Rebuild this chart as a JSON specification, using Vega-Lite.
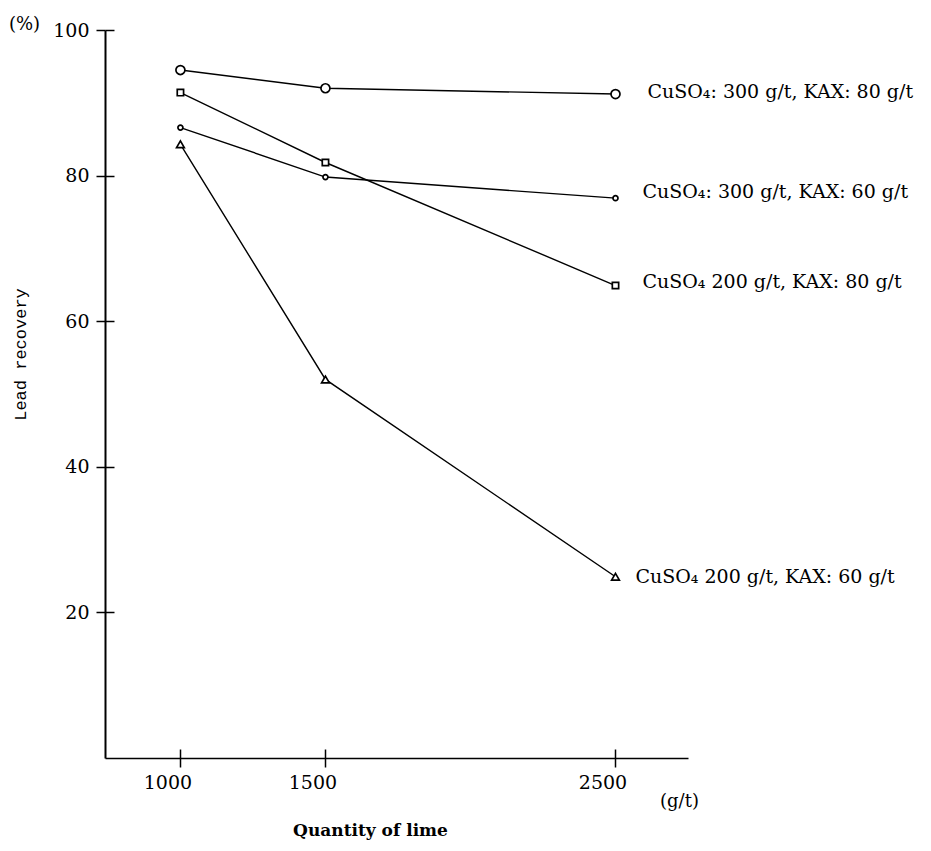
{
  "$schema": "https://vega.github.io/schema/vega-lite/v6.json",
  "width": 583,
  "height": 728,
  "autosize": "none",
  "padding": {"left": 105, "top": 30, "right": 243, "bottom": 93},
  "background": "white",
  "config": {
    "view": {"stroke": null},
    "axis": {
      "grid": false,
      "domainColor": "black",
      "tickColor": "black",
      "labelColor": "black",
      "titleColor": "black",
      "labelFont": "DejaVu Serif",
      "labelFontSize": 19,
      "tickWidth": 1.5
    }
  },
  "data": {
    "values": [
      {"series": "CuSO₄: 300 g/t, KAX: 80 g/t", "lime": 1000, "recovery": 94.5},
      {"series": "CuSO₄: 300 g/t, KAX: 80 g/t", "lime": 1500, "recovery": 92.0},
      {"series": "CuSO₄: 300 g/t, KAX: 80 g/t", "lime": 2500, "recovery": 91.2},
      {"series": "CuSO₄: 300 g/t, KAX: 60 g/t", "lime": 1000, "recovery": 86.6},
      {"series": "CuSO₄: 300 g/t, KAX: 60 g/t", "lime": 1500, "recovery": 79.8},
      {"series": "CuSO₄: 300 g/t, KAX: 60 g/t", "lime": 2500, "recovery": 76.9},
      {"series": "CuSO₄  200 g/t, KAX: 80 g/t", "lime": 1000, "recovery": 91.4},
      {"series": "CuSO₄  200 g/t, KAX: 80 g/t", "lime": 1500, "recovery": 81.8},
      {"series": "CuSO₄  200 g/t, KAX: 80 g/t", "lime": 2500, "recovery": 64.9},
      {"series": "CuSO₄  200 g/t, KAX: 60 g/t", "lime": 1000, "recovery": 84.3},
      {"series": "CuSO₄  200 g/t, KAX: 60 g/t", "lime": 1500, "recovery": 52.0},
      {"series": "CuSO₄  200 g/t, KAX: 60 g/t", "lime": 2500, "recovery": 24.9}
    ]
  },
  "layer": [
    {
      "mark": {"type": "line", "color": "black", "strokeWidth": 1.4},
      "encoding": {
        "x": {
          "field": "lime", "type": "quantitative",
          "scale": {"domain": [740, 2750], "nice": false, "zero": false},
          "axis": {
            "values": [1000, 1500, 2500], "format": "d",
            "tickSize": 9, "labelOffset": -13, "labelPadding": 6,
            "domainWidth": 1.5,
            "title": "Quantity of lime", "titleFont": "DejaVu Serif", "titleFontWeight": "bold", "titleFontSize": 17,
            "titleX": 265, "titleY": 72, "titleAnchor": null, "titleAlign": "center", "titleBaseline": "middle"
          }
        },
        "y": {
          "field": "recovery", "type": "quantitative",
          "scale": {"domain": [0, 100], "nice": false},
          "axis": {
            "values": [20, 40, 60, 80, 100],
            "tickSize": 9, "labelPadding": 7, "domainWidth": 2,
            "title": "Lead recovery", "titleFont": "Liberation Mono", "titleFontWeight": "normal", "titleFontSize": 17,
            "titleX": -85, "titleY": 324, "titleAngle": 270, "titleAlign": "center", "titleBaseline": "middle"
          }
        },
        "detail": {"field": "series"}
      }
    },
    {
      "mark": {"type": "point", "filled": true, "fill": "white", "stroke": "black", "strokeWidth": 1.7, "opacity": 1},
      "encoding": {
        "x": {
          "field": "lime", "type": "quantitative",
          "axis": {
            "orient": "bottom", "values": [1000, 1500, 2500],
            "tickSize": -9, "labels": false, "domain": false,
            "title": "(g/t)", "titleFont": "DejaVu Serif", "titleFontWeight": "normal", "titleFontSize": 18,
            "titleX": 574, "titleY": 43, "titleAlign": "center", "titleBaseline": "middle"
          }
        },
        "y": {
          "field": "recovery", "type": "quantitative",
          "axis": {
            "orient": "left", "values": [20, 40, 60, 80, 100],
            "tickSize": -9, "labels": false, "domain": false,
            "title": "(%)", "titleFont": "DejaVu Serif", "titleFontWeight": "normal", "titleFontSize": 18,
            "titleX": -81, "titleY": -6, "titleAngle": 0, "titleAlign": "center", "titleBaseline": "middle"
          }
        },
        "shape": {
          "field": "series", "type": "nominal",
          "scale": {
            "domain": ["CuSO₄: 300 g/t, KAX: 80 g/t", "CuSO₄: 300 g/t, KAX: 60 g/t", "CuSO₄  200 g/t, KAX: 80 g/t", "CuSO₄  200 g/t, KAX: 60 g/t"],
            "range": ["circle", "circle", "square", "triangle-up"]
          },
          "legend": null
        },
        "size": {
          "field": "series", "type": "nominal",
          "scale": {
            "type": "ordinal",
            "domain": ["CuSO₄: 300 g/t, KAX: 80 g/t", "CuSO₄: 300 g/t, KAX: 60 g/t", "CuSO₄  200 g/t, KAX: 80 g/t", "CuSO₄  200 g/t, KAX: 60 g/t"],
            "range": [81, 25, 40, 60]
          },
          "legend": null
        }
      }
    },
    {
      "transform": [{"filter": "datum.lime == 2500 && datum.series == 'CuSO₄: 300 g/t, KAX: 80 g/t'"}],
      "mark": {"type": "text", "align": "left", "baseline": "middle", "dx": 32, "dy": -2, "font": "DejaVu Serif", "fontSize": 19, "color": "black"},
      "encoding": {
        "x": {"field": "lime", "type": "quantitative", "axis": null},
        "y": {"field": "recovery", "type": "quantitative", "axis": null},
        "text": {"field": "series"}
      }
    },
    {
      "transform": [{"filter": "datum.lime == 2500 && datum.series == 'CuSO₄: 300 g/t, KAX: 60 g/t'"}],
      "mark": {"type": "text", "align": "left", "baseline": "middle", "dx": 27, "dy": -6, "font": "DejaVu Serif", "fontSize": 19, "color": "black"},
      "encoding": {
        "x": {"field": "lime", "type": "quantitative", "axis": null},
        "y": {"field": "recovery", "type": "quantitative", "axis": null},
        "text": {"field": "series"}
      }
    },
    {
      "transform": [{"filter": "datum.lime == 2500 && datum.series == 'CuSO₄  200 g/t, KAX: 80 g/t'"}],
      "mark": {"type": "text", "align": "left", "baseline": "middle", "dx": 27, "dy": -4, "font": "DejaVu Serif", "fontSize": 19, "color": "black"},
      "encoding": {
        "x": {"field": "lime", "type": "quantitative", "axis": null},
        "y": {"field": "recovery", "type": "quantitative", "axis": null},
        "text": {"field": "series"}
      }
    },
    {
      "transform": [{"filter": "datum.lime == 2500 && datum.series == 'CuSO₄  200 g/t, KAX: 60 g/t'"}],
      "mark": {"type": "text", "align": "left", "baseline": "middle", "dx": 20, "dy": 0, "font": "DejaVu Serif", "fontSize": 19, "color": "black"},
      "encoding": {
        "x": {"field": "lime", "type": "quantitative", "axis": null},
        "y": {"field": "recovery", "type": "quantitative", "axis": null},
        "text": {"field": "series"}
      }
    }
  ],
  "resolve": {"axis": {"x": "independent", "y": "independent"}}
}
